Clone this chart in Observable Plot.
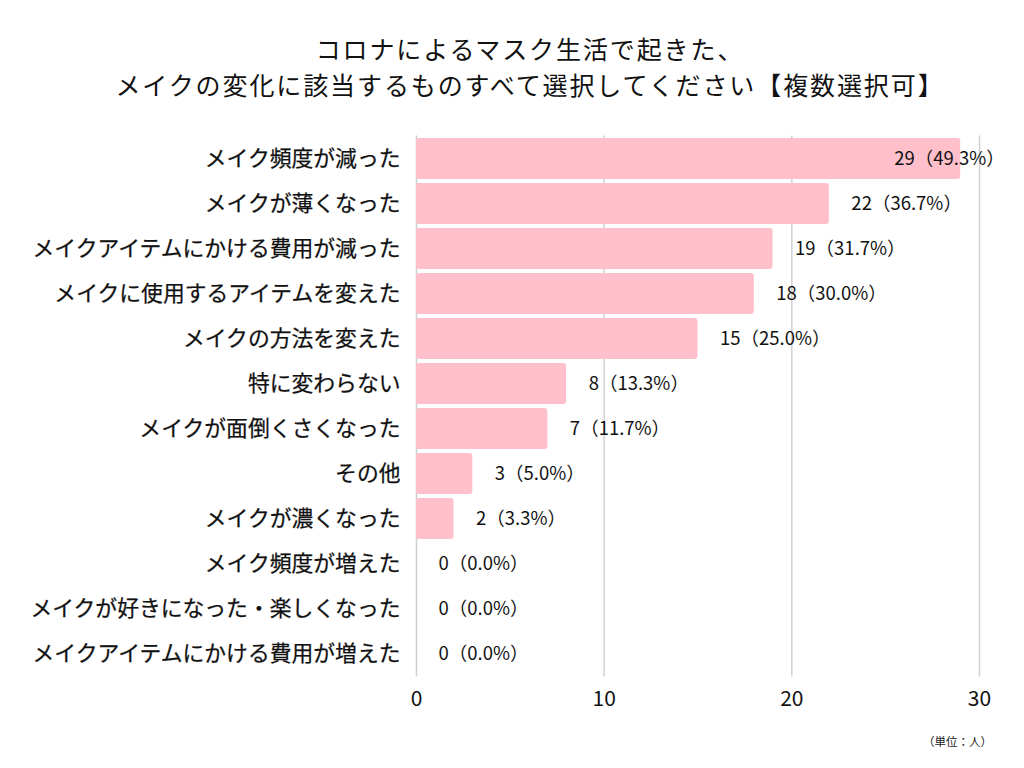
<!DOCTYPE html>
<html><head><meta charset="utf-8">
<script src="https://cdn.jsdelivr.net/npm/d3@7"></script>
<script src="https://cdn.jsdelivr.net/npm/@observablehq/plot@0.6"></script>
<style>
body{margin:0;background:#fff;font-family:"Noto Sans CJK JP",sans-serif;}
#wrap{position:relative;width:1024px;height:768px;}
#title{position:absolute;top:30px;left:30px;width:1000px;text-align:center;font-size:25px;letter-spacing:1.9px;line-height:36px;color:#111;}
#chart{position:absolute;top:120px;left:0;}
#cap{position:absolute;top:733px;right:32px;font-size:11.5px;color:#222;}
#chart g[aria-label="y-axis tick label"] text{stroke:#111;stroke-width:0.25px;}
</style></head>
<body><div id="wrap">
<div id="title">コロナによるマスク生活で起きた、<br>メイクの変化に該当するものすべて選択してください【複数選択可】</div>
<div id="chart"></div>
<div id="cap">（単位：人）</div>
</div>
<script>
const categories = ["メイク頻度が減った","メイクが薄くなった","メイクアイテムにかける費用が減った","メイクに使用するアイテムを変えた","メイクの方法を変えた","特に変わらない","メイクが面倒くさくなった","その他","メイクが濃くなった","メイク頻度が増えた","メイクが好きになった・楽しくなった","メイクアイテムにかける費用が増えた"];
const counts = [29,22,19,18,15,8,7,3,2,0,0,0];
const percents = ["49.3","36.7","31.7","30.0","25.0","13.3","11.7","5.0","3.3","0.0","0.0","0.0"];
const xTicks = [0,10,20,30];

const data = categories.map((c,i)=>({cat:c, n:counts[i], label:`${counts[i]}（${percents[i]}%）`}));
const maxN = d3.max(counts);

const chart = Plot.plot({
  width:1024, height:610,
  marginLeft:416, marginRight:45, marginTop:15.5, marginBottom:53.5,
  style:{fontFamily:'"Noto Sans CJK JP",sans-serif', color:"#111", background:"#fff"},
  x:{domain:[0,30], ticks:xTicks, label:null},
  y:{domain:categories, label:null, padding:0},
  marks:[
    Plot.ruleX(xTicks,{stroke:"#d0d0d0", strokeWidth:1.5}),
    Plot.barX(data,{x:"n", y:"cat", fill:"#ffbfcb", rx:3, insetTop:2, insetBottom:2}),
    Plot.text(data.filter(d=>d.n<maxN),{x:"n", y:"cat", text:"label", textAnchor:"start", dx:22, fontSize:18.5, fill:"#111"}),
    Plot.text(data.filter(d=>d.n===maxN),{x:"n", y:"cat", text:"label", textAnchor:"end", dx:44, fontSize:18.5, fill:"#111"}),
    Plot.axisX({ticks:xTicks, tickSize:0, tickPadding:14, fontSize:21, label:null}),
    Plot.axisY({tickSize:0, tickPadding:16, fontSize:21.8, label:null})
  ]
});
document.getElementById("chart").append(chart);
</script></body></html>
